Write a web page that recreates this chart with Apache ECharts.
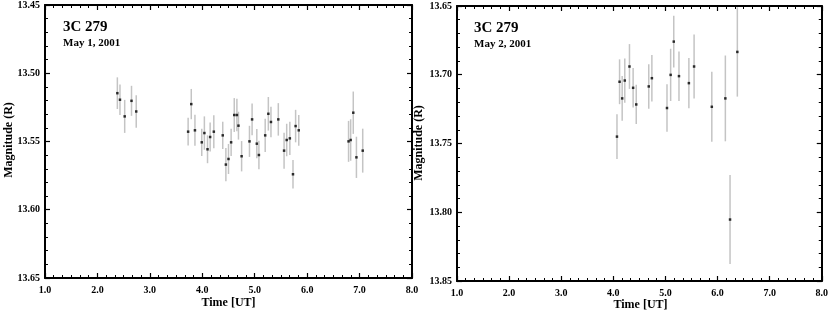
<!DOCTYPE html>
<html>
<head>
<meta charset="utf-8">
<script src="https://cdn.jsdelivr.net/npm/echarts@6/dist/echarts.min.js"></script>
<style>
html,body{margin:0;padding:0;background:#fff;}
#chart{width:831px;height:313px;}
</style>
</head>
<body>
<div id="chart"></div>
<script>
// ---- May 1, 2001 ----
const t1 = [2.38,2.43,2.52,2.65,2.74,3.73,3.79,3.86,3.99,4.04,4.10,4.15,4.22,4.39,4.45,4.50,4.55,4.61,4.66,4.69,4.75,4.90,4.95,5.04,5.08,5.20,5.26,5.31,5.45,5.56,5.61,5.67,5.73,5.78,5.84,6.79,6.83,6.88,6.94,7.06];
const m1 = [13.5146,13.5194,13.5316,13.5202,13.5280,13.5428,13.5226,13.5418,13.5506,13.5438,13.5557,13.5467,13.5428,13.5455,13.5669,13.5628,13.5506,13.5306,13.5306,13.5384,13.5608,13.5499,13.5338,13.5516,13.5599,13.5455,13.5297,13.5357,13.5338,13.5567,13.5489,13.5477,13.5740,13.5387,13.5418,13.5499,13.5489,13.5289,13.5616,13.5567];
const e1 = [0.0116,0.0111,0.0121,0.0110,0.0119,0.0102,0.0111,0.0114,0.0100,0.0122,0.0102,0.0106,0.0121,0.0100,0.0122,0.0110,0.0100,0.0124,0.0119,0.0102,0.0111,0.0114,0.0116,0.0107,0.0105,0.0122,0.0123,0.0112,0.0119,0.0132,0.0119,0.0121,0.0104,0.0119,0.0113,0.0150,0.0152,0.0155,0.0151,0.0161];
// ---- May 2, 2001 ----
const t2 = [4.07,4.12,4.17,4.22,4.31,4.38,4.44,4.68,4.74,5.03,5.10,5.16,5.26,5.45,5.55,5.89,6.15,6.24,6.38];
const m2 = [13.7450,13.7051,13.7172,13.7042,13.6940,13.7095,13.7216,13.7085,13.7025,13.7242,13.7001,13.6759,13.7010,13.7061,13.6940,13.7233,13.7172,13.8053,13.6834];
const e2 = [0.0162,0.0163,0.0163,0.0161,0.0163,0.0144,0.0143,0.0162,0.0169,0.0173,0.0190,0.0189,0.0180,0.0183,0.0232,0.0255,0.0312,0.0324,0.0325];

const titles = ['3C 279','3C 279'];
const dates = ['May 1, 2001','May 2, 2001'];
const xName = 'Time [UT]';
const yName = 'Magnitude (R)';
const yRanges = [[13.45,13.65],[13.65,13.85]];
const xRange = [1,8];

const FONT = 'Liberation Serif';
const grids = [
  {left:45, top:4, width:367, height:274},
  {left:457, top:6, width:367, height:275}
];

const xAxes = [], yAxes = [], series = [];
grids.forEach((g, i) => {
  const lineStyle = {color:'#000', width:2};
  const baseX = {
    type:'value', gridIndex:i, min:xRange[0], max:xRange[1], interval:1,
    axisLine:{show:true, onZero:false, lineStyle},
    axisTick:{show:true, inside:true, length:5, lineStyle:{color:'#000', width:1.2}},
    minorTick:{show:true, splitNumber:6, length:3, lineStyle:{color:'#000', width:1}},
    splitLine:{show:false}
  };
  xAxes.push(Object.assign({}, baseX, {position:'bottom',
    axisLabel:{show:true, margin:7, fontFamily:FONT, fontWeight:'bold', fontSize:10, color:'#000',
      formatter:v => v.toFixed(1)}}));
  xAxes.push(Object.assign({}, baseX, {position:'top', axisLabel:{show:false}}));
  const baseY = {
    type:'value', gridIndex:i, min:yRanges[i][0], max:yRanges[i][1], interval:0.05, inverse:true,
    axisLine:{show:true, onZero:false, lineStyle},
    axisTick:{show:true, inside:true, length:5, lineStyle:{color:'#000', width:1.2}},
    minorTick:{show:true, splitNumber:5, length:3, lineStyle:{color:'#000', width:1}},
    splitLine:{show:false}
  };
  yAxes.push(Object.assign({}, baseY, {position:'left',
    axisLabel:{show:true, margin:5, fontFamily:FONT, fontWeight:'bold', fontSize:10, color:'#000',
      formatter:v => v.toFixed(2)}}));
  yAxes.push(Object.assign({}, baseY, {position:'right', axisLabel:{show:false}}));
});

function panelSeries(i, t, m, e) {
  const data = t.map((x, k) => [x, m[k], e[k]]);
  series.push({
    type:'custom', xAxisIndex:2*i, yAxisIndex:2*i, clip:true,
    data: data, encode:{x:0, y:1},
    renderItem:function(params, api){
      const x = api.value(0), y = api.value(1), er = api.value(2);
      const p1 = api.coord([x, y - er]);
      const p2 = api.coord([x, y + er]);
      return {type:'line', shape:{x1:p1[0], y1:p1[1], x2:p2[0], y2:p2[1]},
        style:{stroke:'#c4c4c4', lineWidth:1.5}};
    },
    z:2
  });
  series.push({
    type:'scatter', xAxisIndex:2*i, yAxisIndex:2*i,
    data: data.map(d => [d[0], d[1]]),
    symbol:'rect', symbolSize:2.5,
    itemStyle:{color:'#000'}, z:3, animation:false
  });
}
panelSeries(0, t1, m1, e1);
panelSeries(1, t2, m2, e2);

const graphic = [];
[[63,20,38],[474,21,39]].forEach((p, i) => {
  graphic.push({type:'text', left:p[0], top:p[1], style:{text:titles[i], fontFamily:FONT, fontWeight:'bold', fontSize:15, fill:'#000'}});
  graphic.push({type:'text', left:p[0], top:p[2], style:{text:dates[i], fontFamily:FONT, fontWeight:'bold', fontSize:11, fill:'#000'}});
});
[[228.5,303],[640.5,305]].forEach(p => {
  graphic.push({type:'text', x:p[0], y:p[1], style:{text:xName, fontFamily:FONT, fontWeight:'bold', fontSize:12, fill:'#000', textAlign:'center', textVerticalAlign:'middle'}});
});
[[9,140],[419,143]].forEach(p => {
  graphic.push({type:'text', x:p[0], y:p[1], rotation:Math.PI/2, style:{text:yName, fontFamily:FONT, fontWeight:'bold', fontSize:12, fill:'#000', textAlign:'center', textVerticalAlign:'middle'}});
});

const chart = echarts.init(document.getElementById('chart'), null, {renderer:'canvas'});
chart.setOption({
  animation:false,
  backgroundColor:'#fff',
  grid: grids,
  xAxis: xAxes,
  yAxis: yAxes,
  series: series,
  graphic: graphic
});
</script>
</body>
</html>
